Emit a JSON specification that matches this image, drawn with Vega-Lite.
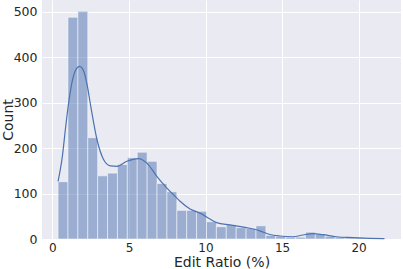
{
  "$schema": "https://vega.github.io/schema/vega-lite/v6.json",
  "width": 359,
  "height": 239,
  "autosize": {"type": "none"},
  "padding": {"left": 42, "top": 0, "right": 2, "bottom": 30},
  "background": "white",
  "config": {
    "view": {"fill": "#EAEAF2", "stroke": null},
    "axis": {
      "domain": false,
      "ticks": false,
      "grid": true,
      "gridColor": "white",
      "gridWidth": 1,
      "labelColor": "#262626",
      "titleColor": "#262626",
      "labelFont": "DejaVu Sans",
      "titleFont": "DejaVu Sans",
      "labelFontSize": 12.5,
      "titleFontSize": 14,
      "titleFontWeight": "normal"
    }
  },
  "datasets": {
    "hist": [
      {"bin_start": 0.370, "bin_end": 1.016, "count": 126},
      {"bin_start": 1.016, "bin_end": 1.663, "count": 488},
      {"bin_start": 1.663, "bin_end": 2.309, "count": 501},
      {"bin_start": 2.309, "bin_end": 2.955, "count": 223},
      {"bin_start": 2.955, "bin_end": 3.602, "count": 139},
      {"bin_start": 3.602, "bin_end": 4.248, "count": 145},
      {"bin_start": 4.248, "bin_end": 4.894, "count": 164},
      {"bin_start": 4.894, "bin_end": 5.540, "count": 179},
      {"bin_start": 5.540, "bin_end": 6.187, "count": 191},
      {"bin_start": 6.187, "bin_end": 6.833, "count": 171},
      {"bin_start": 6.833, "bin_end": 7.479, "count": 122},
      {"bin_start": 7.479, "bin_end": 8.126, "count": 104},
      {"bin_start": 8.126, "bin_end": 8.772, "count": 63},
      {"bin_start": 8.772, "bin_end": 9.418, "count": 63},
      {"bin_start": 9.418, "bin_end": 10.065, "count": 61},
      {"bin_start": 10.065, "bin_end": 10.711, "count": 38},
      {"bin_start": 10.711, "bin_end": 11.357, "count": 27},
      {"bin_start": 11.357, "bin_end": 12.004, "count": 32},
      {"bin_start": 12.004, "bin_end": 12.650, "count": 25},
      {"bin_start": 12.650, "bin_end": 13.296, "count": 24},
      {"bin_start": 13.296, "bin_end": 13.943, "count": 29},
      {"bin_start": 13.943, "bin_end": 14.589, "count": 8},
      {"bin_start": 14.589, "bin_end": 15.235, "count": 6},
      {"bin_start": 15.235, "bin_end": 15.881, "count": 4},
      {"bin_start": 15.881, "bin_end": 16.528, "count": 4},
      {"bin_start": 16.528, "bin_end": 17.174, "count": 15},
      {"bin_start": 17.174, "bin_end": 17.820, "count": 11},
      {"bin_start": 17.820, "bin_end": 18.467, "count": 6},
      {"bin_start": 18.467, "bin_end": 19.113, "count": 4},
      {"bin_start": 19.113, "bin_end": 19.759, "count": 3},
      {"bin_start": 19.759, "bin_end": 20.406, "count": 3},
      {"bin_start": 20.406, "bin_end": 21.052, "count": 2},
      {"bin_start": 21.052, "bin_end": 21.698, "count": 2}
    ],
    "kde": [
      {"ratio": 0.37, "density": 127},
      {"ratio": 0.65, "density": 182},
      {"ratio": 0.87, "density": 248},
      {"ratio": 1.09, "density": 307},
      {"ratio": 1.30, "density": 348},
      {"ratio": 1.52, "density": 372},
      {"ratio": 1.78, "density": 380},
      {"ratio": 2.07, "density": 367},
      {"ratio": 2.28, "density": 337},
      {"ratio": 2.50, "density": 293},
      {"ratio": 2.91, "density": 219},
      {"ratio": 3.34, "density": 175},
      {"ratio": 3.78, "density": 161},
      {"ratio": 4.22, "density": 160},
      {"ratio": 4.87, "density": 171},
      {"ratio": 5.63, "density": 177},
      {"ratio": 6.17, "density": 167},
      {"ratio": 6.82, "density": 138},
      {"ratio": 7.48, "density": 112},
      {"ratio": 8.13, "density": 90},
      {"ratio": 8.34, "density": 83},
      {"ratio": 8.99, "density": 66},
      {"ratio": 9.64, "density": 57},
      {"ratio": 10.29, "density": 44},
      {"ratio": 10.73, "density": 36},
      {"ratio": 11.60, "density": 31},
      {"ratio": 12.68, "density": 25},
      {"ratio": 13.55, "density": 18},
      {"ratio": 14.20, "density": 10},
      {"ratio": 14.85, "density": 6.6},
      {"ratio": 15.72, "density": 5},
      {"ratio": 16.37, "density": 8.8},
      {"ratio": 17.02, "density": 11.8},
      {"ratio": 17.67, "density": 9.5},
      {"ratio": 18.55, "density": 5},
      {"ratio": 19.63, "density": 3},
      {"ratio": 20.72, "density": 1.5},
      {"ratio": 21.69, "density": 0.7}
    ]
  },
  "layer": [
    {
      "data": {"name": "hist"},
      "mark": {"type": "bar", "color": "#4C72B0", "fillOpacity": 0.5, "stroke": "white", "strokeOpacity": 0.5, "strokeWidth": 1},
      "encoding": {
        "x": {
          "field": "bin_start",
          "type": "quantitative",
          "scale": {"domain": [-0.68, 22.77], "nice": false, "zero": false},
          "axis": {"values": [0, 5, 10, 15, 20], "title": "Edit Ratio (%)", "labelPadding": 3, "labelFontSize": 12, "titleBaseline": "top", "titleY": 16}
        },
        "x2": {"field": "bin_end"},
        "y": {
          "field": "count",
          "type": "quantitative",
          "scale": {"domain": [0, 526], "nice": false},
          "axis": {"values": [0, 100, 200, 300, 400, 500], "title": "Count", "labelPadding": 5, "titleAngle": -90, "titleBaseline": "top", "titleX": -41}
        },
        "y2": {"datum": 0}
      }
    },
    {
      "data": {"name": "kde"},
      "mark": {"type": "line", "color": "#4C72B0", "strokeWidth": 1.2, "interpolate": "monotone"},
      "encoding": {
        "x": {"field": "ratio", "type": "quantitative"},
        "y": {"field": "density", "type": "quantitative"}
      }
    }
  ]
}
